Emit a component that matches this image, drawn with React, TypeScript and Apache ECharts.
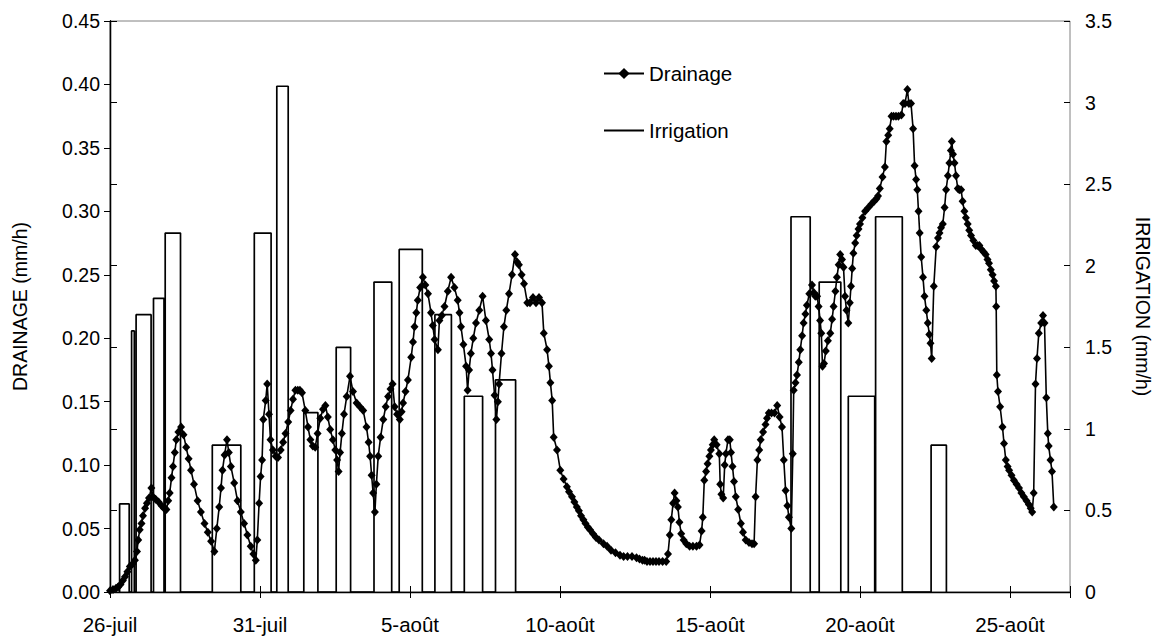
import React, { useEffect, useRef } from 'react';
import * as echarts from 'echarts';

const FONT = '"Liberation Sans", Arial, sans-serif';

// x values are days since 26-juil 00:00
const tickLabels = ['26-juil', '31-juil', '5-août', '10-août', '15-août', '20-août', '25-août'];

// Irrigation events (right axis, mm/h)
const irrigStart = [0.32, 0.72, 0.87, 1.45, 1.84, 3.41, 4.81, 5.56, 6.46, 7.54, 8.80, 9.64, 10.83, 11.81, 12.85, 22.70, 23.64, 24.61, 25.52, 27.37];
const irrigEnd = [0.64, 0.81, 1.37, 1.80, 2.35, 4.36, 5.37, 5.94, 6.93, 8.02, 9.39, 10.41, 11.38, 12.42, 13.52, 23.34, 24.36, 25.49, 26.41, 27.88];
const irrigValue = [0.54, 1.6, 1.7, 1.8, 2.2, 0.9, 2.2, 3.1, 1.1, 1.5, 1.9, 2.1, 1.7, 1.2, 1.3, 2.3, 1.9, 1.2, 2.3, 0.9];

// Drainage (left axis, mm/h): [day, value]
const drainageA: [number, number][] = [
  [0.00, 0.001], [0.10, 0.002], [0.20, 0.003], [0.27, 0.004], [0.35, 0.006], [0.43, 0.009], [0.50, 0.012], [0.58, 0.016],
  [0.66, 0.020], [0.75, 0.022], [0.83, 0.025], [0.90, 0.032], [0.94, 0.041], [0.99, 0.049], [1.05, 0.054], [1.10, 0.060],
  [1.17, 0.066], [1.23, 0.070], [1.30, 0.074], [1.38, 0.082], [1.43, 0.075], [1.52, 0.073], [1.62, 0.071], [1.72, 0.068],
  [1.80, 0.066], [1.88, 0.065], [1.94, 0.072], [1.99, 0.078], [2.05, 0.090], [2.10, 0.099], [2.16, 0.110], [2.21, 0.120],
  [2.28, 0.126], [2.37, 0.130], [2.45, 0.124], [2.54, 0.114], [2.62, 0.105], [2.70, 0.096], [2.80, 0.085], [2.92, 0.072],
  [3.03, 0.063], [3.15, 0.054], [3.26, 0.047], [3.37, 0.040], [3.48, 0.032], [3.56, 0.050], [3.64, 0.067], [3.70, 0.082],
  [3.75, 0.096], [3.82, 0.108], [3.90, 0.120], [3.96, 0.110], [4.03, 0.099], [4.14, 0.086], [4.25, 0.072], [4.36, 0.063],
  [4.47, 0.054], [4.58, 0.045], [4.69, 0.036], [4.78, 0.030], [4.86, 0.025], [4.91, 0.041], [4.97, 0.070], [5.02, 0.091],
  [5.07, 0.104], [5.11, 0.136], [5.19, 0.151], [5.24, 0.164], [5.30, 0.140], [5.35, 0.120], [5.43, 0.112], [5.52, 0.107],
  [5.60, 0.106], [5.69, 0.112], [5.77, 0.118], [5.85, 0.125], [5.94, 0.134], [6.02, 0.143], [6.10, 0.152], [6.18, 0.159],
  [6.26, 0.159], [6.33, 0.159], [6.40, 0.157], [6.51, 0.143], [6.60, 0.130], [6.68, 0.120], [6.76, 0.115], [6.84, 0.114],
  [6.92, 0.125], [7.01, 0.137], [7.10, 0.144], [7.18, 0.147], [7.26, 0.138], [7.34, 0.128], [7.43, 0.120], [7.51, 0.112],
  [7.57, 0.104], [7.62, 0.095], [7.67, 0.110], [7.73, 0.125], [7.80, 0.140], [7.89, 0.154], [8.00, 0.170],
];
const drainageB: [number, number][] = [
  [8.10, 0.158], [8.22, 0.149], [8.33, 0.146], [8.44, 0.143], [8.55, 0.130], [8.62, 0.118], [8.67, 0.107], [8.72, 0.092],
  [8.77, 0.078], [8.83, 0.063], [8.88, 0.085], [8.94, 0.107], [9.02, 0.122], [9.11, 0.136], [9.19, 0.146], [9.27, 0.154],
  [9.35, 0.160], [9.42, 0.164], [9.49, 0.146], [9.57, 0.140], [9.66, 0.136], [9.72, 0.142], [9.77, 0.149], [9.85, 0.158],
  [9.93, 0.167], [10.04, 0.185], [10.10, 0.197], [10.15, 0.209], [10.21, 0.220], [10.26, 0.230], [10.34, 0.240], [10.43, 0.248],
  [10.51, 0.242], [10.60, 0.235], [10.70, 0.220], [10.76, 0.210], [10.82, 0.199], [10.93, 0.191], [10.98, 0.214], [11.06, 0.218],
  [11.15, 0.225], [11.26, 0.237], [11.37, 0.248], [11.48, 0.240], [11.59, 0.230], [11.65, 0.220], [11.70, 0.209], [11.78, 0.195],
  [11.87, 0.178], [11.92, 0.159], [11.97, 0.175], [12.03, 0.188], [12.11, 0.200], [12.20, 0.212], [12.31, 0.222], [12.42, 0.233],
  [12.53, 0.214], [12.64, 0.199], [12.70, 0.188], [12.75, 0.175], [12.82, 0.155], [12.88, 0.136], [12.93, 0.150], [12.97, 0.164],
  [13.05, 0.188], [13.13, 0.209], [13.21, 0.222], [13.30, 0.235], [13.40, 0.250], [13.50, 0.266], [13.57, 0.260], [13.63, 0.258],
  [13.72, 0.250], [13.80, 0.243], [13.91, 0.228], [14.00, 0.228], [14.10, 0.232], [14.20, 0.228], [14.30, 0.232], [14.40, 0.228],
  [14.46, 0.204], [14.57, 0.191], [14.63, 0.178], [14.68, 0.165], [14.74, 0.151], [14.79, 0.122], [14.90, 0.112], [15.01, 0.096],
  [15.12, 0.089], [15.23, 0.083], [15.30, 0.079], [15.40, 0.075], [15.48, 0.071], [15.56, 0.067], [15.63, 0.064], [15.70, 0.060],
  [15.78, 0.057], [15.85, 0.054], [15.93, 0.051], [16.00, 0.049],
];
const drainageC: [number, number][] = [
  [16.10, 0.046], [16.20, 0.043], [16.30, 0.041], [16.45, 0.038], [16.57, 0.036], [16.70, 0.033], [16.85, 0.031], [17.00, 0.029],
  [17.12, 0.028], [17.25, 0.028], [17.40, 0.028], [17.55, 0.027], [17.65, 0.026], [17.75, 0.025], [17.82, 0.025], [17.90, 0.024],
  [18.00, 0.024], [18.10, 0.024], [18.20, 0.024], [18.30, 0.024], [18.42, 0.024], [18.54, 0.024], [18.60, 0.030], [18.66, 0.045],
  [18.71, 0.057], [18.77, 0.070], [18.82, 0.078], [18.88, 0.072], [18.93, 0.067], [18.98, 0.055], [19.04, 0.046], [19.12, 0.041],
  [19.21, 0.038], [19.32, 0.036], [19.43, 0.036], [19.55, 0.036], [19.65, 0.037], [19.72, 0.048], [19.76, 0.059], [19.81, 0.088],
  [19.87, 0.095], [19.92, 0.101], [19.98, 0.107], [20.03, 0.112], [20.09, 0.116], [20.14, 0.120], [20.22, 0.116], [20.31, 0.109],
  [20.34, 0.085], [20.38, 0.077], [20.44, 0.074], [20.49, 0.100], [20.53, 0.109], [20.60, 0.120], [20.66, 0.120], [20.70, 0.110],
  [20.75, 0.099], [20.80, 0.087], [20.86, 0.075], [20.94, 0.065], [21.03, 0.054], [21.10, 0.047], [21.19, 0.041], [21.30, 0.039],
  [21.40, 0.038], [21.47, 0.038], [21.52, 0.075], [21.58, 0.104], [21.64, 0.112], [21.69, 0.120], [21.77, 0.126], [21.85, 0.132],
  [21.90, 0.137], [21.96, 0.141], [22.05, 0.141], [22.15, 0.141], [22.24, 0.147], [22.32, 0.138], [22.40, 0.130], [22.46, 0.104],
  [22.52, 0.080], [22.58, 0.068], [22.63, 0.059], [22.71, 0.050], [22.76, 0.109], [22.79, 0.159], [22.85, 0.165], [22.90, 0.171],
  [22.96, 0.181], [23.01, 0.191], [23.07, 0.202], [23.12, 0.212], [23.18, 0.219], [23.23, 0.226], [23.31, 0.235], [23.40, 0.242],
  [23.46, 0.236], [23.51, 0.233], [23.57, 0.233], [23.62, 0.225], [23.67, 0.214], [23.71, 0.204], [23.75, 0.178],
];
const drainageD: [number, number][] = [
  [23.80, 0.180], [23.86, 0.190], [23.93, 0.198], [24.01, 0.204], [24.07, 0.215], [24.12, 0.225], [24.18, 0.237], [24.23, 0.248],
  [24.29, 0.258], [24.34, 0.266], [24.40, 0.262], [24.45, 0.256], [24.50, 0.233], [24.55, 0.222], [24.61, 0.212], [24.66, 0.228],
  [24.70, 0.241], [24.74, 0.255], [24.78, 0.267], [24.84, 0.275], [24.89, 0.281], [24.95, 0.286], [25.00, 0.290], [25.08, 0.295],
  [25.17, 0.300], [25.28, 0.303], [25.39, 0.306], [25.47, 0.308], [25.55, 0.310], [25.60, 0.312], [25.66, 0.318], [25.75, 0.327],
  [25.83, 0.335], [25.88, 0.355], [25.94, 0.360], [25.99, 0.365], [26.05, 0.375], [26.12, 0.375], [26.20, 0.375], [26.28, 0.375],
  [26.38, 0.376], [26.44, 0.385], [26.50, 0.385], [26.58, 0.396], [26.63, 0.385], [26.70, 0.385], [26.77, 0.365], [26.82, 0.336],
  [26.87, 0.325], [26.91, 0.317], [26.95, 0.300], [26.99, 0.283], [27.04, 0.264], [27.10, 0.248], [27.15, 0.233], [27.21, 0.222],
  [27.26, 0.212], [27.31, 0.203], [27.35, 0.196], [27.39, 0.184], [27.46, 0.241], [27.54, 0.272], [27.60, 0.279], [27.65, 0.283],
  [27.70, 0.287], [27.76, 0.290], [27.82, 0.303], [27.87, 0.317], [27.93, 0.328], [27.98, 0.338], [28.03, 0.348], [28.06, 0.355],
  [28.10, 0.345], [28.15, 0.338], [28.20, 0.328], [28.26, 0.318], [28.31, 0.317], [28.37, 0.317], [28.42, 0.308], [28.48, 0.300],
  [28.53, 0.295], [28.59, 0.290], [28.64, 0.285], [28.70, 0.281], [28.78, 0.277], [28.86, 0.273], [28.92, 0.273], [28.98, 0.273],
  [29.05, 0.270], [29.12, 0.268], [29.19, 0.266], [29.25, 0.262], [29.30, 0.259], [29.36, 0.254], [29.42, 0.250], [29.47, 0.245],
  [29.53, 0.241], [29.54, 0.225], [29.56, 0.171], [29.60, 0.158], [29.67, 0.146], [29.75, 0.130], [29.80, 0.117], [29.86, 0.104],
  [29.92, 0.099], [29.97, 0.096], [30.05, 0.092], [30.13, 0.088], [30.22, 0.085], [30.30, 0.082], [30.38, 0.078], [30.46, 0.075],
  [30.55, 0.072], [30.63, 0.069], [30.69, 0.066], [30.74, 0.063], [30.79, 0.078], [30.85, 0.164], [30.90, 0.184], [30.96, 0.204],
  [31.04, 0.212], [31.10, 0.218], [31.15, 0.212], [31.21, 0.153], [31.26, 0.125], [31.29, 0.115], [31.35, 0.104], [31.40, 0.095],
  [31.46, 0.067],
];

function irrigationOutline(): [number, number][] {
  const pts: [number, number][] = [];
  for (let i = 0; i < irrigStart.length; i++) {
    pts.push([irrigStart[i], 0], [irrigStart[i], irrigValue[i]], [irrigEnd[i], irrigValue[i]], [irrigEnd[i], 0]);
  }
  return pts;
}

export default function App() {
  const ref = useRef<HTMLDivElement>(null);
  useEffect(() => {
    if (!ref.current) return;
    const chart = echarts.init(ref.current, undefined, { renderer: 'svg' });
    const drainage = [...drainageA, ...drainageB, ...drainageC, ...drainageD];
    const labelStyle = { color: '#000', fontFamily: FONT, fontSize: 19.5 };
    chart.setOption({
      animation: false,
      backgroundColor: '#fff',
      textStyle: { fontFamily: FONT },
      grid: { left: 110, right: 85, top: 21, bottom: 46, show: true, borderColor: '#808080', borderWidth: 1, backgroundColor: 'transparent' },
      legend: {
        orient: 'vertical',
        left: 598,
        top: 58,
        itemWidth: 40,
        itemHeight: 14,
        itemGap: 36,
        textStyle: { color: '#000', fontFamily: FONT, fontSize: 20.5 },
        data: [
          { name: 'Drainage' },
          { name: 'Irrigation', itemStyle: { opacity: 0 } },
        ],
        selectedMode: false,
      },
      xAxis: [
        {
          type: 'value', min: 0, max: 32, interval: 5, position: 'bottom',
          axisLine: { show: true, lineStyle: { color: '#000', width: 1.3 } },
          axisTick: { show: true, length: 6, lineStyle: { color: '#000' } },
          axisLabel: { ...labelStyle, fontSize: 20.5, margin: 22, formatter: (v: number) => (v % 5 === 0 && v / 5 < tickLabels.length ? tickLabels[v / 5] : '') },
          splitLine: { show: false },
        },
        {
          type: 'value', min: 0, max: 32, interval: 5, position: 'bottom',
          axisLine: { show: false },
          axisTick: { show: true, inside: true, length: 6, lineStyle: { color: '#000' } },
          axisLabel: { show: false },
          splitLine: { show: false },
        },
      ],
      yAxis: [
        {
          type: 'value', min: 0, max: 0.45, interval: 0.05, position: 'left',
          name: 'DRAINAGE (mm/h)', nameLocation: 'middle', nameGap: 80,
          nameTextStyle: { ...labelStyle },
          axisLine: { show: true, lineStyle: { color: '#000', width: 1.3 } },
          axisTick: { show: true, length: 6, lineStyle: { color: '#000' } },
          axisLabel: { ...labelStyle, margin: 10, formatter: (v: number) => v.toFixed(2) },
          splitLine: { show: false },
        },
        {
          type: 'value', min: 0, max: 3.5, interval: 0.5, position: 'right',
          name: 'IRRIGATION (mm/h)', nameLocation: 'middle', nameRotate: -90, nameGap: 63,
          nameTextStyle: { ...labelStyle },
          axisLine: { show: true, lineStyle: { color: '#000', width: 1.3 } },
          axisTick: { show: true, length: 7, lineStyle: { color: '#000' } },
          axisLabel: { ...labelStyle, margin: 15 },
          splitLine: { show: false },
        },
        {
          type: 'value', min: 0, max: 3.5, interval: 0.5, position: 'right',
          axisLine: { show: false },
          axisTick: { show: true, inside: true, length: 6, lineStyle: { color: '#000' } },
          axisLabel: { show: false },
          splitLine: { show: false },
        },
      ],
      series: [
        {
          name: 'Irrigation', type: 'line', xAxisIndex: 0, yAxisIndex: 1,
          data: irrigationOutline(), symbol: 'none', showSymbol: false,
          lineStyle: { color: '#000', width: 1.7 }, itemStyle: { color: '#000' },
          silent: true, z: 2,
        },
        {
          name: 'Drainage', type: 'line', xAxisIndex: 0, yAxisIndex: 0,
          data: drainage, symbol: 'diamond', symbolSize: [8, 9], showAllSymbol: true,
          lineStyle: { color: '#000', width: 1.6 }, itemStyle: { color: '#000' },
          silent: true, z: 3,
        },
      ],
    });
    return () => chart.dispose();
  }, []);
  return <div ref={ref} style={{ position: 'fixed', left: 0, top: 0, width: 1161, height: 638, background: '#fff' }} />;
}
